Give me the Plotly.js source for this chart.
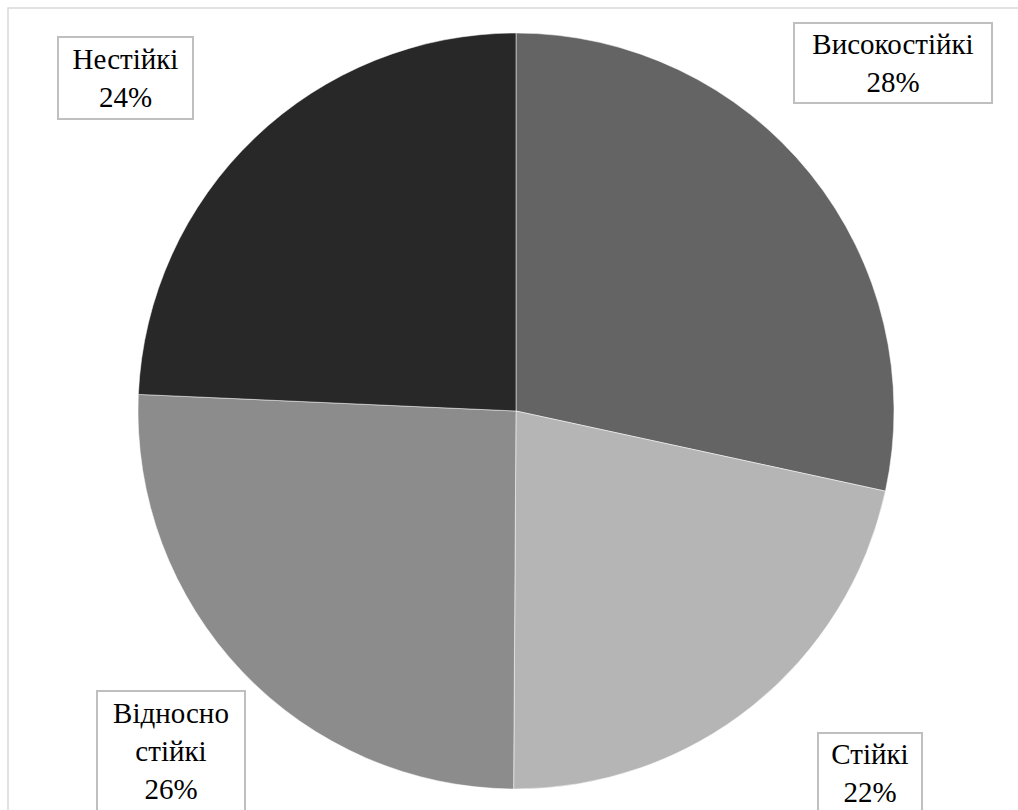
<!DOCTYPE html>
<html>
<head>
<meta charset="utf-8">
<script src="https://cdn.plot.ly/plotly-3.0.1.min.js"></script>
<style>html,body{margin:0;padding:0;background:#fff;}#chart{width:1018px;height:810px;}</style>
</head>
<body>
<div id="chart"></div>
<script>
// Data
var categories = ['Високостійкі', 'Стійкі', 'Відносно стійкі', 'Нестійкі'];
var values = [28.4, 21.7, 25.6, 24.3];
var colors = ['#646464', '#b5b5b5', '#8c8c8c', '#282828'];

var W = 1018, H = 810;
var total = values.reduce(function (a, b) { return a + b; }, 0);
var serif = 'Liberation Serif, Times New Roman, serif';

// label box placement (pixels): center x, center y, width, height
var boxes = [
  {cx: 893, cy: 63, w: 196, h: 78},
  {cx: 870, cy: 773, w: 102, h: 78},
  {cx: 171, cy: 751, w: 146, h: 118},
  {cx: 125.5, cy: 78, w: 133, h: 80}
];

var annotations = categories.map(function (c, i) {
  var pct = Math.round(values[i] / total * 100);
  var b = boxes[i];
  return {
    xref: 'paper', yref: 'paper',
    x: b.cx / W, y: 1 - b.cy / H,
    xanchor: 'center', yanchor: 'middle',
    text: c.replace(' ', '<br>') + '<br>' + pct + '%',
    showarrow: false,
    width: b.w, height: b.h,
    align: 'center', valign: 'middle',
    bordercolor: '#bfbfbf', borderwidth: 2, borderpad: 0,
    bgcolor: '#ffffff',
    font: {family: serif, size: 29, color: '#000000'}
  };
});

var trace = {
  type: 'pie',
  labels: categories,
  values: values,
  sort: false,
  direction: 'clockwise',
  rotation: 0,
  textinfo: 'none',
  hoverinfo: 'label+percent',
  marker: {colors: colors, line: {color: '#ffffff', width: 0.5}},
  domain: {x: [138 / W, 894 / W], y: [21 / H, 777 / H]},
  showlegend: false
};

var layout = {
  width: W, height: H,
  margin: {l: 0, r: 0, t: 0, b: 0},
  paper_bgcolor: '#ffffff',
  font: {family: serif, size: 29},
  showlegend: false,
  annotations: annotations,
  shapes: [{
    type: 'rect', xref: 'paper', yref: 'paper',
    x0: 8 / W, x1: 1.05, y0: -0.05, y1: 1 - 8 / H,
    line: {color: '#d9d9d9', width: 1.5}, fillcolor: 'rgba(0,0,0,0)', layer: 'below'
  }]
};

Plotly.newPlot('chart', [trace], layout, {displayModeBar: false, staticPlot: true});
</script>
</body>
</html>
